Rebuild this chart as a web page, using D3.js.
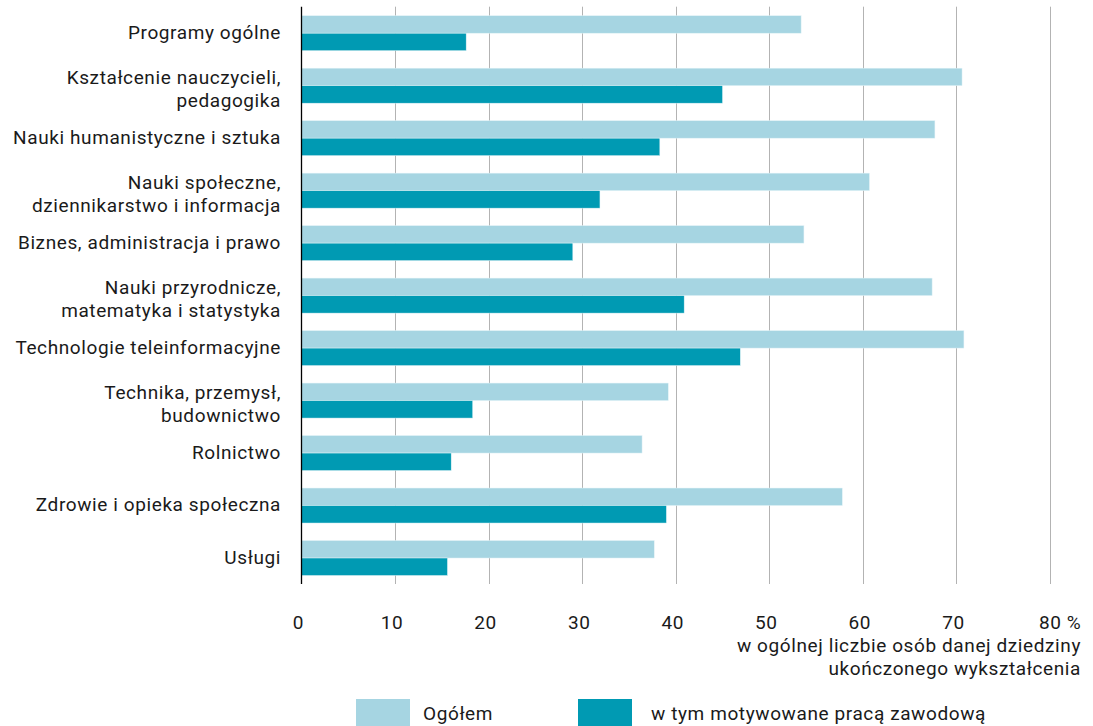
<!DOCTYPE html>
<html>
<head>
<meta charset="utf-8">
<script src="https://cdn.jsdelivr.net/npm/d3@7/dist/d3.min.js"></script>
<style>
  html, body { margin: 0; padding: 0; background: #fff; }
  svg { display: block; }
  text { font-family: Roboto, "Liberation Sans", sans-serif; fill: #1a1a1a; letter-spacing: 0.6px; }
</style>
</head>
<body>
<svg id="chart" width="1093" height="726"></svg>
<script>
const categories = [
  "Programy ogólne",
  "Kształcenie nauczycieli,\npedagogika",
  "Nauki humanistyczne i sztuka",
  "Nauki społeczne,\ndziennikarstwo i informacja",
  "Biznes, administracja i prawo",
  "Nauki przyrodnicze,\nmatematyka i statystyka",
  "Technologie teleinformacyjne",
  "Technika, przemysł,\nbudownictwo",
  "Rolnictwo",
  "Zdrowie i opieka społeczna",
  "Usługi"
];
const seriesNames = ["Ogółem", "w tym motywowane pracą zawodową"];
const ogolem = [53.4, 70.6, 67.7, 60.7, 53.7, 67.4, 70.8, 39.2, 36.4, 57.8, 37.7];
const motywowane = [17.6, 45.0, 38.3, 31.9, 29.0, 40.9, 46.9, 18.3, 16.0, 39.0, 15.6];
const tickValues = [0, 10, 20, 30, 40, 50, 60, 70, 80];
const tickLabels = ["0", "10", "20", "30", "40", "50", "60", "70", "80 %"];
const axisTitle = ["w ogólnej liczbie osób danej dziedziny", "ukończonego wykształcenia"];

const colors = ["#a6d5e2", "#009ab3"];
const seriesValues = [ogolem, motywowane];
const FS = 19;

const svg = d3.select("#chart");
const x = d3.scaleLinear().domain([0, 80]).range([301.5, 1050]);
const y = d3.scaleBand().domain(categories).range([6.7, 584]).padding(0);
const ySub = d3.scaleBand().domain(seriesNames).range([9, 44]).padding(0);

// gridlines
svg.append("g")
  .selectAll("line")
  .data(tickValues.slice(1))
  .join("line")
  .attr("x1", d => Math.round(x(d)) + 0.5)
  .attr("x2", d => Math.round(x(d)) + 0.5)
  .attr("y1", 6.7)
  .attr("y2", 584)
  .attr("stroke", "#b3b3b3")
  .attr("stroke-width", 1);

// bars
const rows = categories.map((c, i) => ({ c, vals: seriesNames.map((s, j) => ({ s, v: seriesValues[j][i], j })) }));
const g = svg.append("g")
  .selectAll("g")
  .data(rows)
  .join("g")
  .attr("transform", d => `translate(0,${y(d.c)})`);
g.selectAll("rect")
  .data(d => d.vals)
  .join("rect")
  .attr("x", x(0))
  .attr("y", d => ySub(d.s))
  .attr("width", d => x(d.v) - x(0))
  .attr("height", ySub.bandwidth())
  .attr("fill", d => colors[d.j])
  .attr("stroke", "#e4f3f7")
  .attr("stroke-width", 0.5);

// y axis line
svg.append("line")
  .attr("x1", 301.5).attr("x2", 301.5)
  .attr("y1", 6.7).attr("y2", 584)
  .attr("stroke", "#000").attr("stroke-width", 1.3);

// category labels
const lab = svg.append("g")
  .selectAll("text")
  .data(categories)
  .join("text")
  .attr("text-anchor", "end")
  .attr("font-size", FS)
  .attr("transform", d => `translate(281,${y(d) + y.bandwidth() / 2})`);
lab.each(function(d) {
  const lines = d.split("\n");
  const t = d3.select(this);
  if (lines.length === 1) {
    t.append("tspan").attr("x", 0).attr("y", 6).text(lines[0]);
  } else {
    t.append("tspan").attr("x", 0).attr("y", -1.5).text(lines[0]);
    t.append("tspan").attr("x", 0).attr("y", 21.5).text(lines[1]);
  }
});

// x tick labels
svg.append("g")
  .selectAll("text")
  .data(tickValues)
  .join("text")
  .attr("x", d => x(d) - 3)
  .attr("y", 629)
  .attr("font-size", FS)
  .attr("text-anchor", (d, i) => i === tickValues.length - 1 ? "start" : "middle")
  .attr("dx", (d, i) => i === tickValues.length - 1 ? -8 : 0)
  .text((d, i) => tickLabels[i]);

// axis title
svg.append("g")
  .selectAll("text")
  .data(axisTitle)
  .join("text")
  .attr("x", 1081)
  .attr("y", (d, i) => 652 + i * 23)
  .attr("text-anchor", "end")
  .attr("font-size", FS)
  .text(d => d);

// legend
const legendX = [356, 578];
const leg = svg.append("g")
  .selectAll("g")
  .data(seriesNames)
  .join("g")
  .attr("transform", (d, i) => `translate(${legendX[i]},699)`);
leg.append("rect")
  .attr("width", 54).attr("height", 28)
  .attr("fill", (d, i) => colors[i]);
leg.append("text")
  .attr("x", (d, i) => i === 0 ? 67 : 73)
  .attr("y", 21)
  .attr("font-size", FS)
  .text(d => d);
</script>
</body>
</html>
